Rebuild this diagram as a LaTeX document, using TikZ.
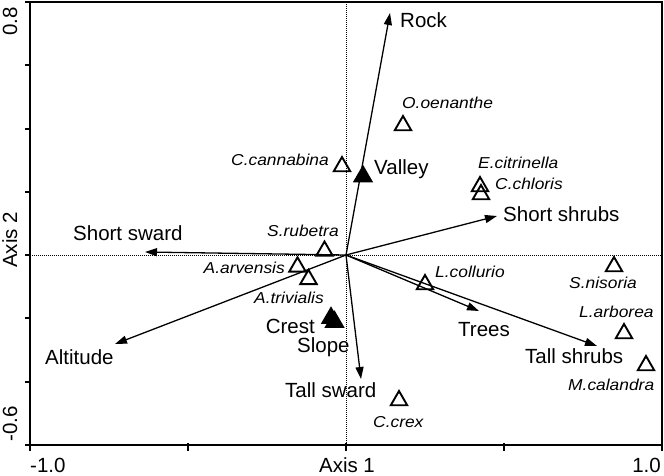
\documentclass[tikz,border=0pt]{standalone}
\usepackage{fontspec}
\setmainfont{Liberation Sans}
\newfontfamily\spfont[FakeStretch=1.1]{Liberation Sans}
\usetikzlibrary{arrows.meta,shapes.geometric}
\begin{document}
\begin{tikzpicture}[x=1pt,y=-1pt,
  envlab/.style={inner sep=0pt,font=\fontsize{20.5}{24}\selectfont},
  splab/.style={inner sep=0pt,font=\spfont\itshape\fontsize{15.8}{18}\selectfont},
  ticklab/.style={inner sep=0pt,font=\fontsize{20.5}{24}\selectfont},
  vec/.style={line width=1.3pt,-{Triangle[length=12pt,width=8pt]}},
  sp/.style={regular polygon,regular polygon sides=3,draw,line width=1.9pt,minimum size=19pt,inner sep=0pt},
  env/.style={regular polygon,regular polygon sides=3,fill=black,minimum size=23.5pt,inner sep=0pt},
  refline/.style={line width=0.6pt,dash pattern=on 1pt off 1pt},
  frame/.style={line width=1.5pt},
  tickmark/.style={line width=1.3pt}]
\useasboundingbox (0,0) rectangle (664,475);
% reference lines
\coordinate (O) at (346,255);
\coordinate (hl) at (30,255);
\coordinate (hr) at (662,255);
\coordinate (vt) at (346,2);
\coordinate (vb) at (346,445);
\draw[refline] (hl) -- (hr);
\draw[refline] (vt) -- (vb);
% frame
\coordinate (fa) at (30,2);
\coordinate (fb) at (662,445);
\draw[frame] (fa) rectangle (fb);
% y ticks
\foreach \yy in {2,65,129,192,255,318,382,445}{
  \draw[tickmark] (25,\yy) -- (30,\yy);
}
% x ticks
\foreach \xx in {30,188,346,504,662}{
  \draw[tickmark] (\xx,443) -- (\xx,451);
}
% axis labels
\node[ticklab,anchor=base west] (xm) at (30,472) {-1.0};
\node[ticklab,anchor=base east] (xp) at (661,472) {1.0};
\node[ticklab,anchor=base] (ax1) at (347,472) {Axis 1};
\node[ticklab,rotate=90,anchor=base east] (yp) at (17,7) {0.8};
\node[ticklab,rotate=90,anchor=base west] (ym) at (17,442) {-0.6};
\node[ticklab,rotate=90,anchor=base] (ax2) at (17,240) {Axis 2};
% vectors
\coordinate (tRock) at (390,13);
\coordinate (tSshrubs) at (497,216);
\coordinate (tSsward) at (145,252);
\coordinate (tAlt) at (115,344);
\coordinate (tTsward) at (361,379);
\coordinate (tTrees) at (479,311);
\coordinate (tTshrubs) at (597,346);
\draw[vec] (O) -- (tRock);
\draw[vec] (O) -- (tSshrubs);
\draw[vec] (O) -- (tSsward);
\draw[vec] (O) -- (tAlt);
\draw[vec] (O) -- (tTsward);
\draw[vec] (O) -- (tTrees);
\draw[vec] (O) -- (tTshrubs);
% environment labels
\node[envlab,anchor=base west] (lRock) at (400,27) {Rock};
\node[envlab,anchor=base west] (lValley) at (374,174) {Valley};
\node[envlab,anchor=base west] (lSshrubs) at (503,221) {Short shrubs};
\node[envlab,anchor=base west] (lSsward) at (73,240) {Short sward};
\node[envlab,anchor=base west] (lAlt) at (45,364) {Altitude};
\node[envlab,anchor=base east] (lCrest) at (315,333) {Crest};
\node[envlab,anchor=base west] (lSlope) at (297,352) {Slope};
\node[envlab,anchor=base west] (lTsward) at (285,397) {Tall sward};
\node[envlab,anchor=base west] (lTrees) at (458,336) {Trees};
\node[envlab,anchor=base west] (lTshrubs) at (525,363) {Tall shrubs};
% environment centroids
\node[env] (cValley) at (363,176.5) {};
\node[env] (cCrest) at (331,318) {};
\node[env] (cSlope) at (334.5,322) {};
% species
\node[sp] (sOoe) at (403,125.5) {};
\node[sp] (sCca) at (342,166.5) {};
\node[sp] (sEci) at (480,186.5) {};
\node[sp] (sCch) at (481,194.5) {};
\node[sp] (sSru) at (324.5,251) {};
\node[sp] (sAar) at (297.5,266.8) {};
\node[sp] (sAtr) at (308.5,279.3) {};
\node[sp] (sLco) at (425,284.5) {};
\node[sp] (sSni) at (614,266.5) {};
\node[sp] (sLar) at (624,333.5) {};
\node[sp] (sMca) at (646,365.5) {};
\node[sp] (sCcr) at (399,400.5) {};
% species labels
\node[splab,anchor=base west] (nOoe) at (402,108) {O.oenanthe};
\node[splab,anchor=base east] (nCca) at (329,165) {C.cannabina};
\node[splab,anchor=base west] (nEci) at (478,168) {E.citrinella};
\node[splab,anchor=base west] (nCch) at (495,189) {C.chloris};
\node[splab,anchor=base west] (nSru) at (267,236) {S.rubetra};
\node[splab,anchor=base east] (nAar) at (285,273) {A.arvensis};
\node[splab,anchor=base west] (nAtr) at (254,303) {A.trivialis};
\node[splab,anchor=base west] (nLco) at (435,277) {L.collurio};
\node[splab,anchor=base west] (nSni) at (569,288) {S.nisoria};
\node[splab,anchor=base west] (nLar) at (579,317) {L.arborea};
\node[splab,anchor=base west] (nMca) at (568,390) {M.calandra};
\node[splab,anchor=base west] (nCcr) at (373,427) {C.crex};
\end{tikzpicture}
\end{document}
